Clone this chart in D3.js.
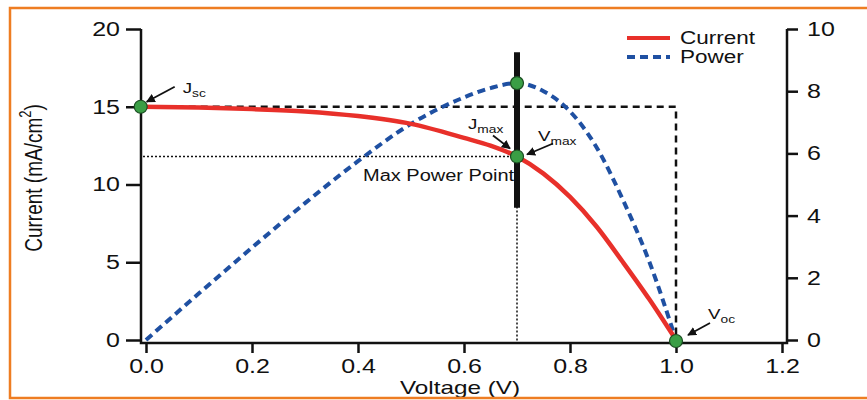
<!DOCTYPE html>
<html>
<head>
<meta charset="utf-8">
<script src="https://cdn.jsdelivr.net/npm/d3@7"></script>
<style>
  body { margin: 0; background: #fff; }
  text { font-family: Arial, "Liberation Sans", sans-serif; fill: #111; }
</style>
</head>
<body>
<div id="chart"></div>
<script>
// values
const voltage = [-0.01, 0.1, 0.2, 0.3, 0.4, 0.5, 0.6, 0.65, 0.7, 0.75, 0.8, 0.85, 0.9, 0.95, 1.0];
const current = [15.0, 14.95, 14.85, 14.7, 14.4, 13.9, 13.0, 12.5, 11.8, 10.7, 9.2, 7.3, 5.0, 2.6, 0];
const powerV = [0, 0.1, 0.2, 0.3, 0.4, 0.5, 0.6, 0.65, 0.7, 0.75, 0.8, 0.85, 0.9, 0.95, 1.0];
const power = [0, 1.5, 2.97, 4.4, 5.75, 6.95, 7.8, 8.1, 8.26, 8.0, 7.35, 6.2, 4.5, 2.5, 0];
const seriesNames = ["Current", "Power"];
const xTicks = [0, 0.2, 0.4, 0.6, 0.8, 1.0, 1.2];
const yLeftTicks = [0, 5, 10, 15, 20];
const yRightTicks = [0, 2, 4, 6, 8, 10];
const jsc = 15, voc = 1.0, vmax = 0.7, jmax = 11.8, pmax = 8.26;
const mppBar = [8.5, 18.5]; // thick bar at Vmax, in current units

const width = 867, height = 400,
  sx = 1.25; // glyphs in the picture are stretched sideways

const red = "#e8302a", blue = "#1f50a2", green = "#3a9e45";

const svg = d3.select("#chart").append("svg")
  .attr("width", width)
  .attr("height", height);

const x = d3.scaleLinear().domain([0, 1.2]).range([146, 782]);
const yL = d3.scaleLinear().domain([0, 20]).range([340, 29]);
const yR = d3.scaleLinear().domain([0, 10]).range([340, 29]);

const leftX = x(0) - 5, rightX = x(1.2) + 5, bottomY = yL(0) + 3;

// axes
const gL = svg.append("g").attr("transform", `translate(${leftX},0)`)
  .call(d3.axisLeft(yL).tickValues(yLeftTicks).tickSize(15).tickPadding(6).tickFormat(d3.format("d")));
gL.selectAll("text").attr("transform", `scale(${sx},1)`).attr("x", -21 / sx).style("font-size", "20px");

const gR = svg.append("g").attr("transform", `translate(${rightX},0)`)
  .call(d3.axisRight(yR).tickValues(yRightTicks).tickSize(11).tickPadding(9).tickFormat(d3.format("d")));
gR.selectAll("text").attr("transform", `scale(${sx},1)`).attr("x", 20 / sx).style("font-size", "20px");

const gB = svg.append("g").attr("transform", `translate(0,${bottomY})`)
  .call(d3.axisBottom(x).tickValues(xTicks).tickSize(10).tickPadding(6).tickFormat(d3.format(".1f")));
gB.selectAll("text").attr("transform", `scale(${sx},1)`).attr("x", 0).style("font-size", "20px");

[gL, gR, gB].forEach(g => {
  g.select(".domain").remove();
  g.selectAll(".tick line").attr("stroke", "#111").attr("stroke-width", 2.5);
});

svg.append("path")
  .attr("d", `M${leftX},${yL(20)}V${bottomY}H${rightX}V${yR(10)}`)
  .attr("fill", "none").attr("stroke", "#111").attr("stroke-width", 2.5);

// guide lines
svg.append("path")
  .attr("d", `M${x(voltage[0])},${yL(jsc)}H${x(voc)}V${yL(0)}`)
  .attr("fill", "none").attr("stroke", "#111").attr("stroke-width", 2.5)
  .attr("stroke-dasharray", "7,5");

svg.append("path")
  .attr("d", `M${leftX + 2},${yL(jmax)}H${x(vmax)}V${bottomY}`)
  .attr("fill", "none").attr("stroke", "#111").attr("stroke-width", 1.5)
  .attr("stroke-dasharray", "2,2");

// series
const powerLine = d3.line().curve(d3.curveMonotoneX)
  .x((d, i) => x(powerV[i])).y(d => yR(d));
svg.append("path").datum(power)
  .attr("d", powerLine)
  .attr("fill", "none").attr("stroke", blue).attr("stroke-width", 4)
  .attr("stroke-dasharray", "8,5");

const currentLine = d3.line().curve(d3.curveMonotoneX)
  .x((d, i) => x(voltage[i])).y(d => yL(d));
svg.append("path").datum(current)
  .attr("d", currentLine)
  .attr("fill", "none").attr("stroke", red).attr("stroke-width", 4.5);

// stretched text helper
function label(px, py, str, size, anchor, stretch) {
  const t = svg.append("text")
    .attr("transform", `translate(${px},${py}) scale(${stretch || sx},1)`)
    .style("font-size", size + "px")
    .attr("text-anchor", anchor || "start");
  t.text(str);
  return t;
}

label(x(vmax) - 154, yL(jmax) + 24, "Max Power Point", 16);

// thick bar through the max power point
svg.append("line")
  .attr("x1", x(vmax)).attr("x2", x(vmax))
  .attr("y1", yL(mppBar[0])).attr("y2", yL(mppBar[1]))
  .attr("stroke", "#111").attr("stroke-width", 6);

// markers
const markers = [
  { px: x(voltage[0]), py: yL(jsc) },
  { px: x(vmax), py: yR(pmax) },
  { px: x(vmax), py: yL(jmax) },
  { px: x(voc), py: yL(0) + 1 }
];
svg.selectAll("circle.mk").data(markers).join("circle")
  .attr("class", "mk")
  .attr("cx", d => d.px).attr("cy", d => d.py).attr("r", 6.5)
  .attr("fill", green).attr("stroke", "#1b4d22").attr("stroke-width", 1.2);

// annotations: main letter, subscript, offsets from the marker
svg.append("defs").append("marker")
  .attr("id", "ah").attr("viewBox", "0 0 10 10").attr("refX", 9).attr("refY", 5)
  .attr("markerWidth", 5).attr("markerHeight", 5).attr("orient", "auto")
  .append("path").attr("d", "M0,0L10,5L0,10z").attr("fill", "#111");

const notes = [
  { m: 0, main: "J", sub: "sc", tx: 42, ty: -14, ax: 34, ay: -20, bx: 6, by: -5 },
  { m: 2, main: "J", sub: "max", tx: -49, ty: -28, ax: -24, ay: -21, bx: -7, by: -8 },
  { m: 2, main: "V", sub: "max", tx: 21, ty: -16, ax: 36, ay: -13, bx: 10, by: -2 },
  { m: 3, main: "V", sub: "oc", tx: 32, ty: -22, ax: 34, ay: -18, bx: 12, by: -6 }
];
notes.forEach(n => {
  const mk = markers[n.m];
  svg.append("line")
    .attr("x1", mk.px + n.ax).attr("y1", mk.py + n.ay)
    .attr("x2", mk.px + n.bx).attr("y2", mk.py + n.by)
    .attr("stroke", "#111").attr("stroke-width", 1.8)
    .attr("marker-end", "url(#ah)");
  const t = label(mk.px + n.tx, mk.py + n.ty, "", 15);
  t.append("tspan").text(n.main);
  t.append("tspan").attr("dy", 4).style("font-size", "11px").text(n.sub);
});

// axis titles
label(460, 394, "Voltage (V)", 18, "middle", 1.35);

const yt = svg.append("text")
  .attr("transform", `translate(42,178) rotate(-90) scale(1,${sx})`)
  .attr("text-anchor", "middle")
  .style("font-size", "19px");
yt.append("tspan").text("Current (mA/cm");
yt.append("tspan").attr("dy", -9).style("font-size", "13px").text("2");
yt.append("tspan").attr("dy", 9).text(")");

// legend
const legend = svg.append("g");
seriesNames.forEach((name, i) => {
  const ly = 38 + i * 19;
  legend.append("line")
    .attr("x1", 627).attr("x2", 670).attr("y1", ly).attr("y2", ly)
    .attr("stroke", i === 0 ? red : blue).attr("stroke-width", 4)
    .attr("stroke-dasharray", i === 0 ? null : "8,5");
  label(680, ly + 6, name, 18);
});

// frame
svg.append("rect")
  .attr("x", 10).attr("y", 8).attr("width", 880).attr("height", 390)
  .attr("fill", "none").attr("stroke", "#ee7d22").attr("stroke-width", 2.5);
</script>
</body>
</html>
